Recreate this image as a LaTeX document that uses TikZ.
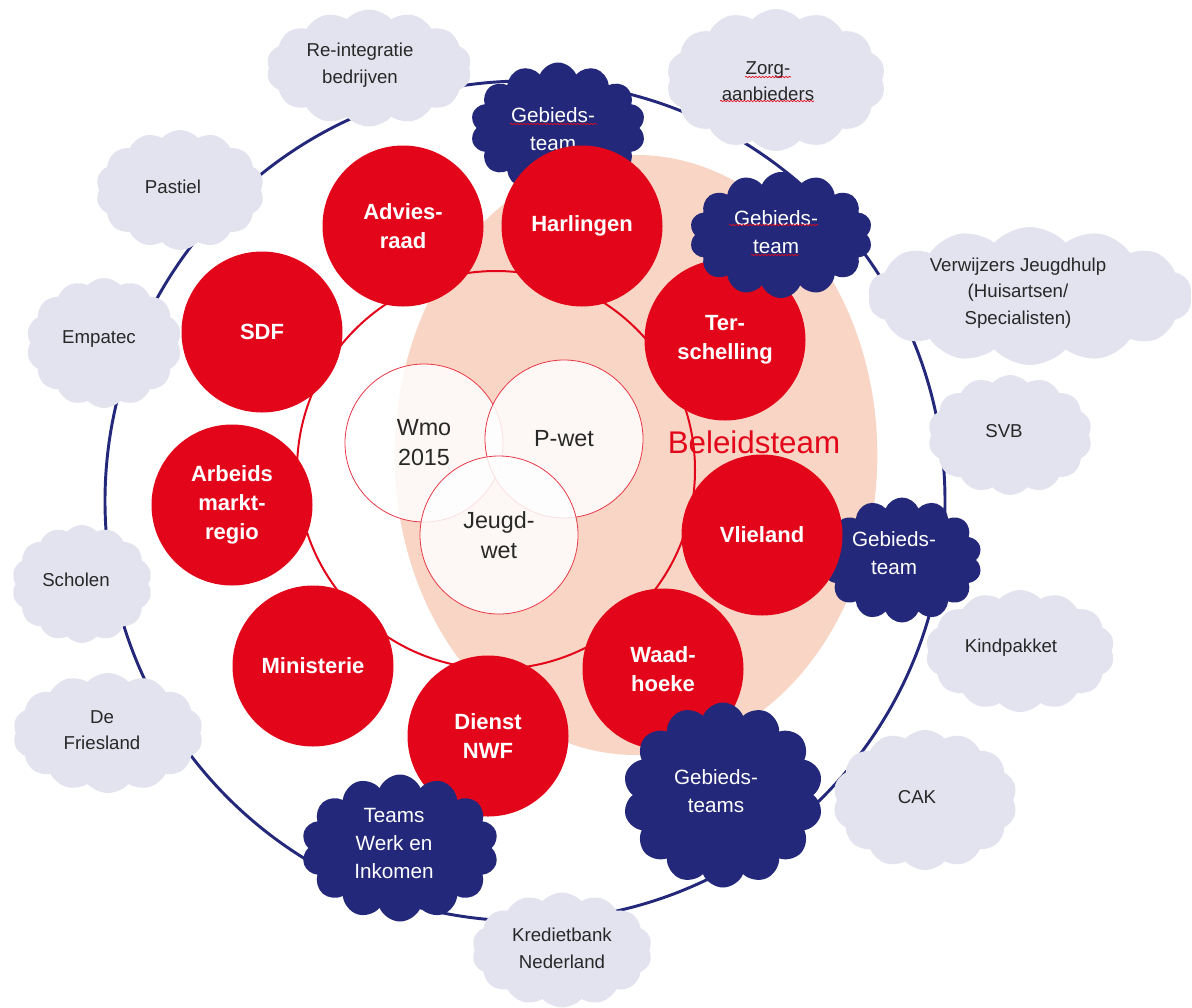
\documentclass[tikz,border=0pt]{standalone}
\usepackage{fontspec}
\setmainfont{Liberation Sans}
\usetikzlibrary{shapes.symbols,shapes.geometric,decorations.pathmorphing}
\definecolor{navy}{RGB}{36,40,122}
\definecolor{cloudgray}{RGB}{226,227,238}
\definecolor{rred}{RGB}{227,6,26}
\definecolor{peach}{RGB}{248,213,196}
\definecolor{txtgray}{RGB}{40,40,40}
\begin{document}
\begin{tikzpicture}[x=0.75pt,y=-0.75pt,
  sz/.style 2 args={minimum width=#1*0.75pt, minimum height=#2*0.75pt},
  graycloud/.style={cloud, cloud puffs=14, cloud puff arc=95, cloud ignores aspect, fill=cloudgray, draw=none, inner sep=0pt},
  navycloud/.style={cloud, cloud puffs=14, cloud puff arc=135, cloud ignores aspect, fill=navy, draw=none, inner sep=0pt},
  graytext/.style={align=center, text=txtgray, inner sep=0pt, font=\fontsize{14}{20}\selectfont},
  navytext/.style={align=center, text=white, inner sep=0pt, font=\fontsize{15.5}{21}\selectfont},
  redc/.style={circle, fill=rred, draw=none, text=white, align=center, inner sep=0pt,
     minimum size=161*0.75pt, font=\bfseries\fontsize{16.5}{22}\selectfont},
  lawc/.style={circle, fill=white, fill opacity=0.84, text opacity=1, draw=rred!80, line width=0.6pt,
     minimum size=158*0.75pt, align=center, inner sep=0pt, text=txtgray,
     font=\fontsize{17.5}{22.5}\selectfont},
  outer/.style={draw=navy, line width=2.2pt},
  ring/.style={draw=rred, line width=1.5pt},
  squig/.style={draw=rred, line width=0.5pt, decorate, decoration={snake, amplitude=0.5pt, segment length=2.5pt}}
]
\useasboundingbox (0,0) rectangle (1192,1007);
% peach Beleidsteam area
\fill[peach] (636,455) ellipse [x radius=181pt, y radius=225pt];
% outer navy ring
\draw[outer] (525,501) circle [radius=315pt];
% inner red ring
\draw[ring] (496,470) circle [radius=149.25pt];
% gray clouds
\node[graycloud, sz={205}{117}] (reint) at (369,68) {};
\node[graytext] (reintT) at (360,65) {Re-integratie\\bedrijven};
\node[graycloud, sz={219}{142}] (zorg) at (776,80) {};
\node[graytext] (zorgT) at (768,81) {Zorg-\\aanbieders};
\node[graycloud, sz={168}{120}] (pastiel) at (180,190) {};
\node[graytext] (pastielT) at (173,187) {Pastiel};
\node[graycloud, sz={155}{130}] (empatec) at (104,343) {};
\node[graytext] (empatecT) at (99,339) {Empatec};
\node[graycloud, sz={324}{138}] (verw) at (1030,296) {};
\node[graytext] (verwT) at (1018,293) {Verwijzers Jeugdhulp\\(Huisartsen/\\Specialisten)};
\node[graycloud, sz={164}{120}] (svb) at (1010,435) {};
\node[graytext] (svbT) at (1004,431) {SVB};
\node[graycloud, sz={140}{118}] (scholen) at (82,584) {};
\node[graytext] (scholenT) at (76,580) {Scholen};
\node[graycloud, sz={189}{122}] (kind) at (1020,651) {};
\node[graytext] (kindT) at (1011,648) {Kindpakket};
\node[graycloud, sz={190}{120}] (friesland) at (108,733) {};
\node[graytext] (frieslandT) at (102,730) {De\\Friesland};
\node[graycloud, sz={184}{140}] (cak) at (925,800) {};
\node[graytext] (cakT) at (917,797) {CAK};
\node[graycloud, sz={180}{115}] (krediet) at (562,950) {};
\node[graytext] (kredietT) at (562,948) {Kredietbank\\Nederland};
\draw[squig] (745,77) -- (791,77);
\draw[squig] (720,101) -- (814,101);
% top navy cloud (behind red circles)
\node[navycloud, sz={175}{131}] (g1) at (558,128) {};
\node[navytext] (g1T) at (553,129) {Gebieds-\\team};
\draw[squig] (510,124) -- (597,124);
% red circles
\node[redc] (advies) at (403,226) {Advies-\\raad};
\node[redc] (harl) at (582,226) {Harlingen};
\node[redc] (ters) at (725,340) {Ter-\\schelling};
\node[redc] (sdf) at (262,332) {SDF};
\node[redc] (arb) at (232,505) {Arbeids\\markt-\\regio};
\node[redc] (mini) at (313,666) {Ministerie};
\node[redc] (waad) at (663,669) {Waad-\\hoeke};
\node[redc] (dienst) at (488,736) {Dienst\\NWF};
% navy cloud behind Vlieland
\node[navycloud, sz={160}{125}] (g3) at (902,560) {};
\node[redc] (vlie) at (762,535) {Vlieland};
\node[navytext] (g3T) at (894,553) {Gebieds-\\team};
% law circles
\node[lawc] (wmo) at (424,443) {Wmo\\2015};
\node[lawc] (pwet) at (564,439) {P-wet};
\node[lawc] (jeugd) at (499,535) {Jeugd-\\wet};
% other navy clouds
\node[navycloud, sz={183}{126}] (g2) at (781,235) {};
\node[navytext] (g2T) at (776,232) {Gebieds-\\team};
\draw[squig] (729,225) -- (818,225);
\draw[squig] (751,255) -- (799,255);
\node[navycloud, sz={200}{185}] (g4) at (723,795) {};
\node[navytext] (g4T) at (716,791) {Gebieds-\\teams};
\node[navycloud, sz={197}{147}] (g5) at (400,848) {};
\node[navytext] (g5T) at (394,843) {Teams\\Werk en\\Inkomen};
% label
\node[text=rred, font=\fontsize{23.5}{28}\selectfont] (bel) at (754,442) {Beleidsteam};
\end{tikzpicture}
\end{document}
